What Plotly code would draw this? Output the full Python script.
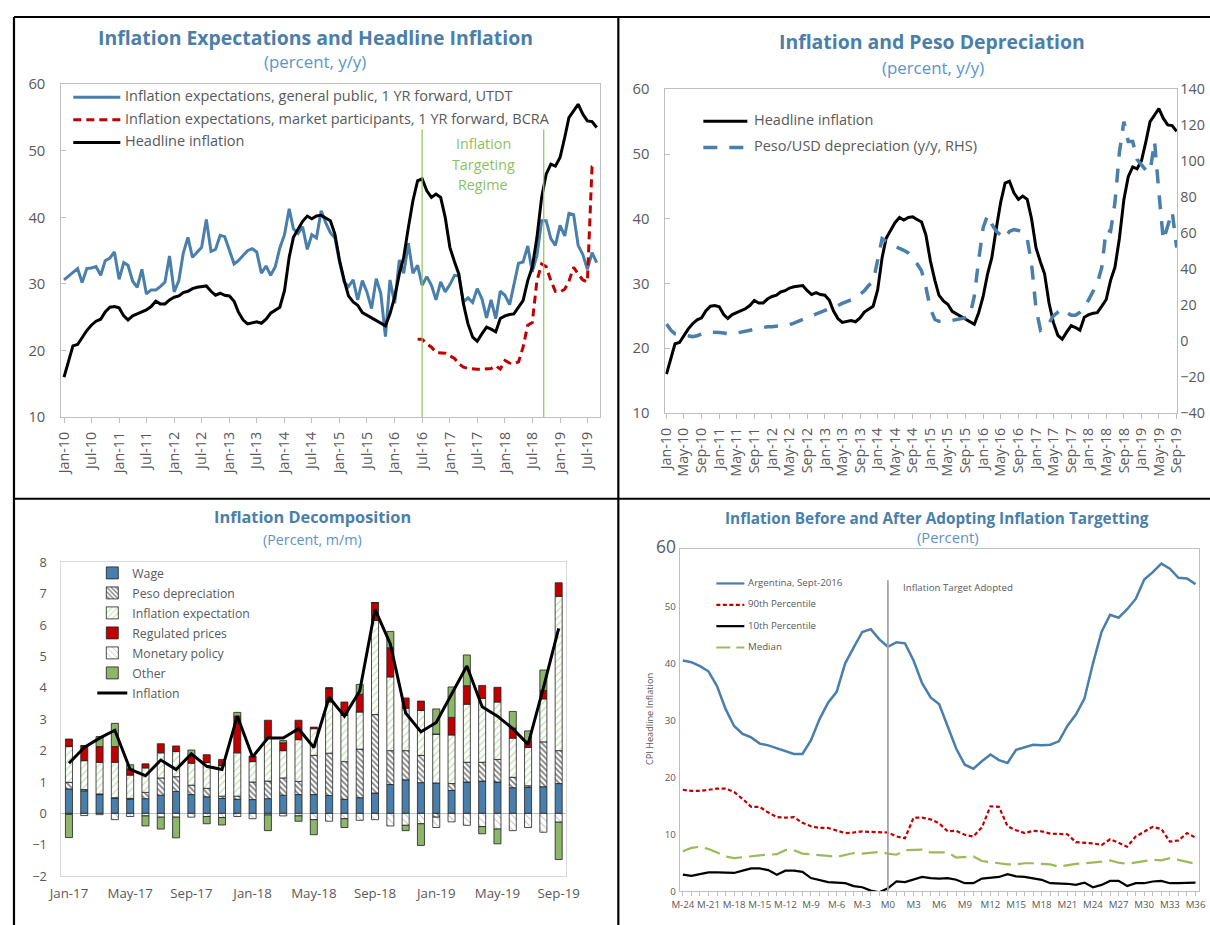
import pandas as pd
import plotly.graph_objects as go

# The returned picture shows the page inside a thin white frame, slightly scaled
# (picture = 12.7 + 0.9787*x_page , 14.9 + 0.971*y_page, measured on earlier renders).
# Positions below are given in reference-picture pixels and mapped back to page pixels.
OX, SX, OY, SY = 12.7, 0.9787, 14.9, 0.971
W, H = 1224, 937
FS = 1 / SX
def X(x): return (x - OX) / SX
def Y(y): return (y - OY) / SY
def px(x): return min(max(X(x) / W, 0), 1)
def py(y): return min(max(1 - Y(y) / H, 0), 1)

FONT = "Open Sans"
TXT = "#595959"
AX = "#bfbfbf"
TITLE_C = "#4a7eab"
SUB_C = "#5b94c8"
BLUE = "#4a7eab"
RED = "#c00000"
GREEN_T = "#8cbf5f"

# ---------------- data: panels 1 & 2 (monthly, Jan-10 .. Sep-19) ----------------
months = pd.date_range("2010-01-01", periods=117, freq="MS")
headline = [16.0, 18.7, 20.7, 20.9, 22.0, 23.0, 23.8, 24.4, 24.7, 25.8,
            26.5, 26.6, 26.4, 25.2, 24.6, 25.2, 25.5, 25.8, 26.1, 26.6,
            27.4, 27.0, 27.0, 27.6, 28.0, 28.2, 28.7, 28.9, 29.3, 29.5,
            29.6, 29.7, 28.9, 28.3, 28.6, 28.3, 28.2, 27.4, 25.8, 24.6,
            24.0, 24.1, 24.3, 24.1, 24.7, 25.6, 26.0, 26.5, 29.0, 34.0,
            37.0, 38.3, 39.4, 40.2, 39.8, 40.2, 40.3, 39.9, 39.5, 37.5,
            33.5, 30.5, 28.2, 27.3, 26.8, 25.7, 25.3, 24.8, 24.4, 24.0,
            23.7, 25.5, 28.0, 31.5, 34.0, 38.5, 42.5, 45.5, 45.8, 44.0,
            43.0, 43.5, 43.0, 40.0, 35.5, 33.3, 31.5, 27.0, 24.0, 22.0,
            21.4, 22.5, 23.5, 23.2, 22.8, 24.8, 25.2, 25.4, 25.5, 26.5,
            27.5, 30.5, 32.5, 37.0, 43.0, 46.5, 48.0, 47.7, 49.0, 52.0,
            55.0, 56.0, 57.0, 55.5, 54.5, 54.4, 53.5]
utdt = [30.6, 31.2, 31.8, 32.3, 30.2, 32.3, 32.4, 32.6, 31.3, 33.5,
        33.9, 34.8, 30.7, 33.2, 32.8, 30.4, 29.5, 32.2, 28.5, 29.1,
        29.1, 29.6, 30.3, 34.2, 28.8, 30.5, 34.6, 37.0, 34.0, 34.8,
        35.5, 39.7, 34.9, 35.2, 37.3, 37.1, 35.2, 33.0, 33.5, 34.3,
        35.0, 35.3, 34.8, 31.6, 32.7, 31.3, 32.6, 35.4, 37.4, 41.3,
        38.3, 37.6, 38.6, 35.2, 37.4, 36.9, 41.0, 39.2, 37.7, 36.9,
        33.3, 30.3, 29.6, 30.6, 27.6, 30.5, 28.8, 26.3, 30.8, 28.6,
        22.1, 30.6, 27.1, 33.6, 31.6, 36.1, 31.6, 32.8, 29.8, 31.1,
        29.8, 27.6, 30.3, 28.8, 29.9, 31.3, 31.2, 27.3, 27.9, 27.2,
        29.3, 27.8, 24.9, 27.6, 24.8, 28.9, 28.3, 26.9, 29.8, 33.1,
        33.3, 35.7, 31.8, 34.3, 39.5, 39.5, 36.8, 35.8, 38.8, 37.2,
        40.6, 40.4, 35.8, 34.4, 32.2, 34.7, 33.2]
bcra_months = pd.date_range("2016-06-01", periods=40, freq="MS")
bcra = [21.7, 21.7, 21.0, 20.5, 19.7, 19.6, 19.6, 19.2, 18.8, 18.0,
        17.5, 17.3, 17.2, 17.2, 17.2, 17.2, 17.3, 17.7, 17.2, 18.5,
        18.1, 18.0, 18.3, 20.5, 23.8, 24.2, 30.5, 33.0, 32.6, 30.5,
        28.9, 28.8, 29.2, 30.4, 32.5, 31.5, 30.6, 30.3, 47.6, 47.8]
peso_dep = [9.5, 6, 4, 3.5, 3, 2.5, 2.5, 3, 4, 5,
            5, 5, 4.8, 4.5, 4, 4, 4.3, 5, 5.5, 6,
            6.5, 7, 7.5, 8, 8, 8.2, 8.3, 8.5, 9, 10,
            11, 12, 13, 14, 15, 16, 17, 18, 18.5, 20,
            21, 22, 23, 24, 26, 28, 31, 33, 45, 57,
            55.5, 54, 52.5, 51.5, 50.5, 49, 46, 43, 39, 30,
            18, 12, 11, 11, 11, 11.5, 12, 12.5, 13, 14,
            25, 45, 63, 70, 65, 61, 59, 57, 61, 62,
            61.5, 60.5, 57, 43, 18, 6, 7, 10, 14, 16,
            18, 16, 14.4, 14.4, 16, 18.5, 23, 27.5, 32, 41,
            62, 61, 77, 105, 122, 111, 111, 101, 98, 95,
            94, 111, 83, 56, 64, 72, 52]

# ---------------- data: panel 3 (m/m decomposition, Jan-17 .. Sep-19) ----------------
decomp_months = pd.date_range("2017-01-01", periods=33, freq="MS").strftime("%b-%y").tolist()
wage = [0.78, 0.72, 0.60, 0.49, 0.45, 0.47, 0.58, 0.70, 0.60, 0.53, 0.48, 0.45, 0.44, 0.47, 0.58, 0.60, 0.60,
        0.57, 0.45, 0.50, 0.65, 0.92, 1.07, 0.98, 0.97, 0.73, 1.00, 1.03, 1.00, 0.82, 0.83, 0.85, 0.95]
peso = [0.21, 0.04, 0.02, 0.01, 0.03, 0.20, 0.55, 0.47, 0.30, 0.27, 0.07, 0.10, 0.56, 0.56, 0.55, 0.42, 1.25,
        1.35, 1.20, 1.55, 2.50, 1.08, 0.93, 0.87, -0.12, 0.22, 0.63, 0.60, 0.72, 0.33, 0.05, 1.43, 1.05]
infl_exp = [1.14, 0.92, 1.01, 1.13, 0.74, 0.78, 0.80, 0.80, 0.70, 0.82, 0.97, 1.38, 0.65, 1.37, 0.87, 1.33, 0.85,
            1.63, 1.47, 1.18, 3.00, 2.35, 1.35, 1.43, 1.56, 1.55, 1.85, 2.04, 1.83, 1.25, 1.22, 1.37, 4.92]
regulated = [0.24, 0.48, 0.50, 0.50, 0.20, 0.13, 0.29, 0.18, 0.22, 0.25, 0.20, 1.17, 0.17, 0.57, 0.25, 0.62, 0.05,
             0.45, 0.43, 0.57, 0.57, 0.93, 0.33, 0.30, 0.00, 0.56, 0.59, 0.41, 0.47, 0.32, 0.20, 0.27, 0.43]
monetary = [-0.03, -0.07, -0.04, -0.20, -0.10, -0.08, -0.12, -0.12, -0.12, -0.10, -0.13, -0.10, -0.17, -0.05, -0.08,
            -0.08, -0.20, -0.25, -0.17, -0.22, -0.20, -0.40, -0.38, -0.33, -0.33, -0.27, -0.38, -0.42, -0.50, -0.55,
            -0.45, -0.60, -0.28]
other = [-0.74, 0.00, 0.32, 0.74, 0.13, -0.32, -0.38, -0.66, 0.20, -0.23, -0.24, 0.12, 0.00, -0.50, 0.07, -0.17,
         -0.48, 0.00, -0.28, 0.31, 0.00, 0.52, -0.17, -0.69, 0.80, 0.97, 0.98, -0.23, -0.47, 0.53, 0.33, 0.65, -1.19]
inflation_mm = [1.6, 2.1, 2.4, 2.65, 1.4, 1.2, 1.7, 1.4, 1.9, 1.5, 1.4, 3.1, 1.8, 2.4, 2.4, 2.7, 2.1,
                3.7, 3.1, 3.9, 6.5, 5.4, 3.2, 2.6, 2.9, 3.8, 4.7, 3.4, 3.1, 2.7, 2.2, 4.0, 5.9]

# ---------------- data: panel 4 (months relative to adoption) ----------------
rel_month = list(range(-24, 37))
rel_labels = [f"M{m}" for m in range(-24, 37, 3)]
argentina = [40.5, 40.2, 39.5, 38.6, 36.0, 32.0, 29.0, 27.6, 27.0, 25.9, 25.6, 25.1, 24.5, 24.1, 24.1, 26.5,
             30.2, 33.1, 35.0, 40.0, 42.8, 45.5, 46.0, 44.2,
             42.9, 43.7, 43.5, 40.5, 36.5, 34.0, 32.8, 29.0, 25.0, 22.2, 21.5, 22.8, 24.0, 23.0, 22.5, 24.8,
             25.2, 25.7, 25.6, 25.7, 26.3, 29.0, 31.0, 33.8, 40.0, 45.5, 48.5, 48.0, 49.5, 51.3, 54.7, 56.0,
             57.5, 56.6, 55.0, 54.9, 53.9]
p90 = [17.8, 17.6, 17.6, 17.8, 18.0, 18.0, 17.4, 16.2, 14.8, 14.8, 13.8, 13.0, 12.9, 13.0, 12.0, 11.4,
       11.1, 11.1, 10.6, 10.2, 10.3, 10.5, 10.4, 10.4,
       10.3, 9.6, 9.3, 12.9, 12.9, 12.6, 11.9, 10.5, 10.6, 9.9, 9.6, 11.2, 14.9, 14.8, 11.4, 10.7,
       10.2, 10.6, 10.5, 10.1, 10.0, 10.0, 8.6, 8.5, 8.4, 8.1, 9.1, 8.5, 7.8, 9.6, 10.4, 11.3,
       10.9, 8.7, 8.9, 10.2, 9.4]
p10 = [2.9, 2.7, 3.0, 3.3, 3.3, 3.3, 3.2, 3.6, 4.0, 4.0, 3.7, 2.9, 3.6, 3.6, 3.4, 2.3,
       2.0, 1.6, 1.5, 1.4, 0.9, 0.7, 0.1, -0.2,
       0.5, 1.7, 1.6, 2.0, 2.5, 2.3, 2.2, 2.3, 2.0, 1.4, 1.4, 2.2, 2.3, 2.5, 3.0, 2.6,
       2.5, 2.2, 2.0, 1.4, 1.4, 1.3, 1.1, 1.5, 0.7, 1.1, 1.8, 1.8, 0.9, 1.4, 1.4, 1.7,
       1.8, 1.4, 1.4, 1.5, 1.5]
median = [7.0, 7.6, 7.8, 7.4, 6.8, 6.1, 5.8, 6.0, 6.2, 6.3, 6.4, 6.5, 7.2, 7.2, 6.6, 6.5,
          6.4, 6.2, 6.0, 6.3, 6.7, 6.6, 6.8, 6.9,
          6.6, 6.4, 7.2, 7.3, 7.3, 6.8, 6.8, 6.8, 5.9, 6.0, 6.1, 5.3, 5.1, 4.9, 4.7, 4.7,
          4.9, 4.9, 4.8, 4.7, 4.3, 4.6, 4.8, 4.9, 5.0, 5.2, 5.4, 5.0, 4.8, 5.0, 5.3, 5.5,
          5.4, 5.8, 5.5, 5.2, 4.8]

fig = go.Figure()

# ---------------- panel 1 ----------------
fig.add_trace(go.Scatter(x=months, y=utdt, xaxis="x", yaxis="y", mode="lines", showlegend=False,
                         line=dict(color=BLUE, width=3),
                         name="Inflation expectations, general public, 1 YR forward, UTDT"))
fig.add_trace(go.Scatter(x=bcra_months, y=bcra, xaxis="x", yaxis="y", mode="lines", showlegend=False,
                         line=dict(color=RED, width=3, dash="8px,5px"),
                         name="Inflation expectations, market participants, 1 YR forward, BCRA"))
fig.add_trace(go.Scatter(x=months, y=headline, xaxis="x", yaxis="y", mode="lines", showlegend=False,
                         line=dict(color="black", width=3), name="Headline inflation"))

# ---------------- panel 2 ----------------
fig.add_trace(go.Scatter(x=months, y=headline, xaxis="x2", yaxis="y2", mode="lines", showlegend=False,
                         line=dict(color="black", width=3), name="Headline inflation"))
fig.add_trace(go.Scatter(x=months, y=peso_dep, xaxis="x2", yaxis="y3", mode="lines", showlegend=False,
                         line=dict(color=BLUE, width=3.5, dash="14px,12px"),
                         name="Peso/USD depreciation (y/y, RHS)"))

# ---------------- panel 3 ----------------
bar_specs = [
    ("Wage", wage, dict(color="#4a7eab", line=dict(color="#1f1f1f", width=0.8))),
    ("Peso depreciation", peso, dict(color="white", line=dict(color="#1f1f1f", width=0.8),
                                     pattern=dict(shape="\\", fgcolor="black", bgcolor="white",
                                                  size=4, solidity=0.45))),
    ("Inflation expectation", infl_exp, dict(color="white", line=dict(color="#1f1f1f", width=0.8),
                                             pattern=dict(shape="/", fgcolor="#8cc063", bgcolor="white",
                                                          size=5, solidity=0.25))),
    ("Regulated prices", regulated, dict(color="#c00000", line=dict(color="#1f1f1f", width=0.8))),
    ("Monetary policy", monetary, dict(color="white", line=dict(color="#1f1f1f", width=0.8),
                                       pattern=dict(shape="\\", fgcolor="#808080", bgcolor="white",
                                                    size=5, solidity=0.2))),
    ("Other", other, dict(color="#8db66b", line=dict(color="#1f1f1f", width=0.8))),
]
for i, (name, vals, mk) in enumerate(bar_specs):
    fig.add_trace(go.Bar(x=decomp_months, y=vals, xaxis="x3", yaxis="y4", name=name, marker=mk,
                         legend="legend", legendgroup=f"g{i}", showlegend=True))
fig.add_trace(go.Scatter(x=decomp_months, y=inflation_mm, xaxis="x3", yaxis="y4", mode="lines",
                         name="Inflation", line=dict(color="black", width=3),
                         legend="legend", legendgroup="g9", showlegend=True))

# ---------------- panel 4 ----------------
fig.add_trace(go.Scatter(x=rel_month, y=argentina, xaxis="x4", yaxis="y5", mode="lines", showlegend=False,
                         line=dict(color=BLUE, width=2.5), name="Argentina, Sept-2016"))
fig.add_trace(go.Scatter(x=rel_month, y=p90, xaxis="x4", yaxis="y5", mode="lines", showlegend=False,
                         line=dict(color=RED, width=2.2, dash="4px,2.5px"), name="90th Percentile"))
fig.add_trace(go.Scatter(x=rel_month, y=p10, xaxis="x4", yaxis="y5", mode="lines", showlegend=False,
                         line=dict(color="black", width=2.2), name="10th Percentile"))
fig.add_trace(go.Scatter(x=rel_month, y=median, xaxis="x4", yaxis="y5", mode="lines", showlegend=False,
                         line=dict(color="#9bbb59", width=2.2, dash="16px,7px"), name="Median"))

tf = lambda s: dict(family=FONT, size=s * FS, color=TXT)

layout = dict(
    width=W, height=H, margin=dict(l=0, r=0, t=0, b=0),
    paper_bgcolor="white", plot_bgcolor="white",
    font=dict(family=FONT, color=TXT),
    barmode="relative", bargap=0.54,
    # panel 1
    xaxis=dict(domain=[px(61), px(600)], anchor="y", type="date",
               range=["2009-12-14", "2019-09-25"], tick0="2010-01-01", dtick="M6", tickformat="%b-%y",
               tickangle=-90, ticks="outside", ticklen=5, tickcolor=AX, showline=True, linecolor=AX,
               mirror=True, showgrid=False, tickfont=tf(14), ticklabelstandoff=3),
    yaxis=dict(domain=[py(415), py(83)], anchor="x", range=[10, 60], dtick=10, ticks="inside",
               ticklen=5, tickcolor=AX, showline=True, linecolor=AX, mirror=True, showgrid=False,
               zeroline=False, tickfont=tf(14.5), ticklabelstandoff=12),
    # panel 2
    xaxis2=dict(domain=[px(665), px(1177)], anchor="y2", type="date",
                range=["2009-12-24", "2019-09-06"], tick0="2010-01-01", dtick="M4", tickformat="%b-%y",
                tickangle=-90, ticks="outside", ticklen=5, tickcolor=AX, showline=True, linecolor=AX,
                mirror=True, showgrid=False, tickfont=tf(14), ticklabelstandoff=3),
    yaxis2=dict(domain=[py(411), py(88)], anchor="x2", range=[10, 60], dtick=10, ticks="inside",
                ticklen=5, tickcolor=AX, showline=True, linecolor=AX, mirror=True, showgrid=False,
                zeroline=False, tickfont=tf(14.5), ticklabelstandoff=12),
    yaxis3=dict(overlaying="y2", side="right", anchor="x2", range=[-40, 140], dtick=20, ticks="",
                showline=False, showgrid=False, zeroline=False, tickfont=tf(14), ticklabelstandoff=2),
    # panel 3
    xaxis3=dict(domain=[px(61), px(566)], anchor="y4", type="category", range=[-0.5, 32.5],
                tickmode="array", tickvals=decomp_months[::4], ticks="", showline=True,
                linecolor="#d9d9d9", mirror=True, showgrid=False, tickfont=tf(13), ticklabelstandoff=5),
    yaxis4=dict(domain=[py(873), py(560)], anchor="x3", range=[-2, 8], dtick=1, ticks="",
                showline=True, linecolor="#d9d9d9", mirror=True, showgrid=False, zeroline=True,
                zerolinecolor=AX, zerolinewidth=1, tickfont=tf(12.5), ticklabelstandoff=11),
    # panel 4
    xaxis4=dict(domain=[px(679.5), px(1199)], anchor="y5", range=[-24.35, 36.45],
                tickmode="array", tickvals=list(range(-24, 37, 3)), ticktext=rel_labels,
                ticks="outside", ticklen=4, tickcolor=AX, showline=True, linecolor=AX, mirror=True,
                showgrid=False, zeroline=False, tickfont=tf(9.5), ticklabelstandoff=0,
                minor=dict(tickmode="linear", tick0=0, dtick=1, ticks="outside", ticklen=4,
                           tickcolor=AX, showgrid=False)),
    yaxis5=dict(domain=[py(888), py(547)], anchor="x4", range=[0, 60], tickmode="array",
                tickvals=[0, 10, 20, 30, 40, 50, 60],
                ticktext=["0", "10", "20", "30", "40", "50",
                          f'<span style="font-size:{17 * FS:.1f}px">60</span>'],
                ticks="", showline=True, linecolor=AX, mirror=True, showgrid=False, zeroline=False,
                tickfont=tf(9.5), ticklabelstandoff=1),
    legend=dict(x=px(92), y=py(556), xanchor="left", yanchor="top", bgcolor="rgba(0,0,0,0)",
                font=dict(family=FONT, size=12 * FS, color=TXT), traceorder="grouped", tracegroupgap=1),
)
fig.update_layout(**layout)

ann = []
DY = -2  # text boxes sit ~2px low relative to the glyph centre
def text(x, y, s, size, color=TXT, xanchor="center", bold=False):
    ann.append(dict(x=px(x), y=py(y + DY), xref="paper", yref="paper", text=f"<b>{s}</b>" if bold else s,
                    showarrow=False, xanchor=xanchor, yanchor="middle",
                    font=dict(family=FONT, size=size * FS, color=color)))

# titles
text(315, 38, "Inflation Expectations and Headline Inflation", 19, TITLE_C, bold=True)
text(315, 62, "(percent, y/y)", 16.5, SUB_C)
text(932, 42, "Inflation and Peso Depreciation", 19, TITLE_C, bold=True)
text(933, 68, "(percent, y/y)", 16.5, SUB_C)
text(312, 517, "Inflation Decomposition", 16, TITLE_C, bold=True)
text(312, 539, "(Percent, m/m)", 14, SUB_C)
text(937, 518, "Inflation Before and After Adopting Inflation Targetting", 15, TITLE_C, bold=True)
text(948, 537, "(Percent)", 14.5, SUB_C)

# panel 1 annotation
text(483, 144, "Inflation", 14, GREEN_T)
text(483, 165, "Targeting", 14, GREEN_T)
text(483, 185, "Regime", 14, GREEN_T)
# panel 4 annotations
text(901, 587, "Inflation Target Adopted", 9.5, TXT, xanchor="left")
ann.append(dict(x=px(649), y=py(716), xref="paper", yref="paper", text="CPI Headline Inflation",
                showarrow=False, xanchor="center", yanchor="middle", textangle=-90,
                font=dict(family=FONT, size=9 * FS, color=TXT)))

shapes = []
def seg(x0, x1, y, color, width, dash="solid"):
    shapes.append(dict(type="line", xref="paper", yref="paper", x0=px(x0), x1=px(x1), y0=py(y), y1=py(y),
                       line=dict(color=color, width=width, dash=dash)))

# manual legends, panel 1
leg1 = [("Inflation expectations, general public, 1 YR forward, UTDT", BLUE, "solid"),
        ("Inflation expectations, market participants, 1 YR forward, BCRA", RED, "8px,5px"),
        ("Headline inflation", "black", "solid")]
for i, (lab, c, d) in enumerate(leg1):
    yy = 96 + i * 22.5
    seg(73, 120, yy, c, 3, d)
    text(123, yy + 0.5, lab, 14.2, TXT, xanchor="left")
# panel 2
leg2 = [("Headline inflation", "black", "solid", 3), ("Peso/USD depreciation (y/y, RHS)", BLUE, "14px,12px", 3.5)]
for i, (lab, c, d, w) in enumerate(leg2):
    yy = 120 + i * 26
    seg(703, 747, yy, c, w, d)
    text(752, yy + 0.5, lab, 14.2, TXT, xanchor="left")
# panel 4
leg4 = [("Argentina, Sept-2016", BLUE, "solid"), ("90th Percentile", RED, "4px,2.5px"),
        ("10th Percentile", "black", "solid"), ("Median", "#9bbb59", "14px,6px")]
for i, (lab, c, d) in enumerate(leg4):
    yy = 581 + i * 21.3
    seg(716, 744, yy, c, 2.2, d)
    text(746, yy + 1, lab, 9.5, TXT, xanchor="left")

# regime / adoption markers
for xv in ["2016-07-01", "2018-09-15"]:
    shapes.append(dict(type="line", xref="x", yref="y", x0=xv, x1=xv, y0=10, y1=53.2,
                       line=dict(color="#8fc45f", width=1.2)))
shapes.append(dict(type="line", xref="x4", yref="y5", x0=0, x1=0, y0=0, y1=54.6,
                   line=dict(color="#a6a6a6", width=1.8)))

# panel frame lines (top/left ones sit just at the visible edge)
K = "black"
top_y = 1 - 1.0 / H
left_x = 1.0 / W
shapes += [
    dict(type="line", xref="paper", yref="paper", x0=left_x, x1=1, y0=top_y, y1=top_y, line=dict(color=K, width=2)),
    dict(type="line", xref="paper", yref="paper", x0=left_x, x1=left_x, y0=top_y, y1=0, line=dict(color=K, width=2.2)),
    dict(type="line", xref="paper", yref="paper", x0=px(618), x1=px(618), y0=top_y, y1=0, line=dict(color=K, width=2.2)),
    dict(type="line", xref="paper", yref="paper", x0=left_x, x1=1, y0=py(496.5), y1=py(496.5), line=dict(color=K, width=2)),
]

fig.update_layout(annotations=ann, shapes=shapes)
fig.write_html("out.html", include_plotlyjs=True, config={"displayModeBar": False},
               post_script="document.documentElement.style.margin='0';document.body.style.margin='0';"
                           "document.body.style.padding='0';document.body.style.overflow='hidden';")
